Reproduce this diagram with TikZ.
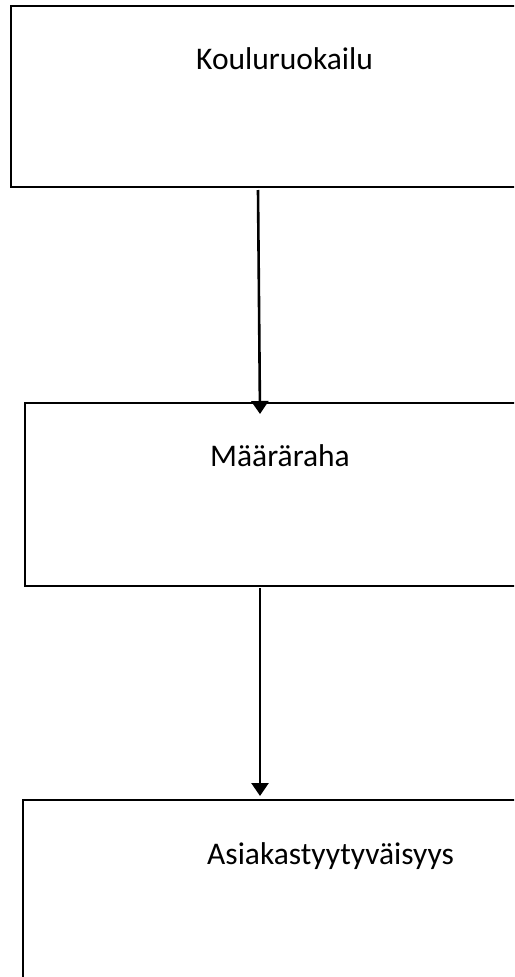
\documentclass[tikz,border=0pt]{standalone}
\usepackage{fontspec}
\setmainfont{Carlito}
\usetikzlibrary{arrows.meta}
\begin{document}
\begin{tikzpicture}[x=1pt,y=-1pt,
  boxstyle/.style={draw=black,line width=2.6pt,rectangle,inner sep=0pt},
  label/.style={anchor=base west,inner sep=0pt,font=\fontsize{31.5}{37}\selectfont},
  conn/.style={line width=2.6pt,-{Triangle[width=17pt,length=13pt]}}]
\useasboundingbox (0,0) rectangle (514,977);
\clip (0,0) rectangle (514,977);
\fill[white] (0,0) rectangle (514,977);
\node[boxstyle,minimum width=529pt,minimum height=181pt] (b1) at (275.5,96.5) {};
\node[boxstyle,minimum width=515pt,minimum height=183pt] (b2) at (282.5,494.5) {};
\node[boxstyle,minimum width=517pt,minimum height=200pt] (b3) at (281.5,900) {};
\node[label] (t1) at (196,69) {Kouluruokailu};
\node[label] (t2) at (210,466) {Määräraha};
\node[label] (t3) at (207,864) {Asiakastyytyväisyys};
\coordinate (s1) at (258,190);
\coordinate (e1) at (260,414);
\coordinate (s2) at (260,588);
\coordinate (e2) at (260,796);
\draw[conn] (s1) -- (e1);
\draw[conn] (s2) -- (e2);
\end{tikzpicture}
\end{document}
